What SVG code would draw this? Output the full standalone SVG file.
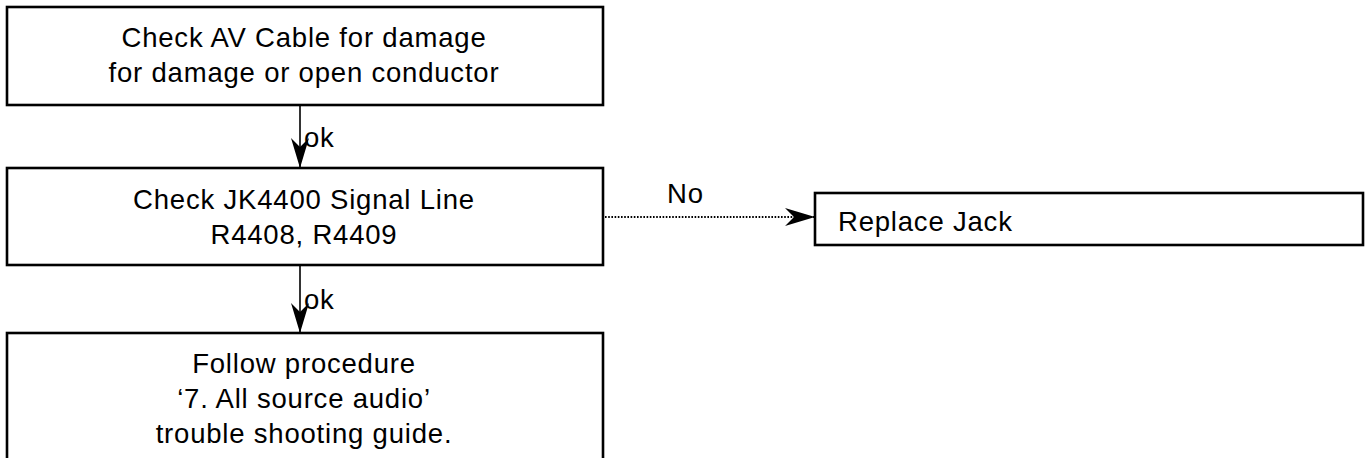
<svg xmlns="http://www.w3.org/2000/svg" width="1367" height="458" viewBox="0 0 1367 458">
<defs>
<style>
.box{fill:#fff;stroke:#000;stroke-width:2.6}
.t{font-family:"Liberation Sans",Arial,sans-serif;font-size:27.5px;letter-spacing:0.8px;fill:#000}
.c{text-anchor:middle}
.ln{stroke:#000;stroke-width:1.6;fill:none}
.dot{stroke:#000;stroke-width:1.8;fill:none;stroke-dasharray:1.6 1.6}
</style>
<marker id="ah" markerUnits="userSpaceOnUse" viewBox="0 0 30 18" refX="30" refY="9" markerWidth="30" markerHeight="18" orient="auto">
<path d="M0,0 L30,9 L0,18 L9,9 Z" fill="#000"/>
</marker>
</defs>
<rect width="1367" height="458" fill="#fff"/>
<g id="connectors">
<line class="ln" x1="300" y1="105" x2="300" y2="168" marker-end="url(#ah)"/>
<text class="t" x="304" y="147">ok</text>
<line class="ln" x1="300" y1="265" x2="300" y2="333" marker-end="url(#ah)"/>
<text class="t" x="304" y="309">ok</text>
<line class="dot" x1="605" y1="217" x2="815" y2="217" marker-end="url(#ah)"/>
<text class="t" x="667" y="203">No</text>
</g>
<g id="node1">
<rect class="box" x="7" y="7" width="596" height="98"/>
<text class="t c" x="304" y="47">Check AV Cable for damage</text>
<text class="t c" x="304" y="82">for damage or open conductor</text>
</g>
<g id="node2">
<rect class="box" x="7" y="168" width="596" height="97"/>
<text class="t c" x="304" y="209">Check JK4400 Signal Line</text>
<text class="t c" x="304" y="244">R4408, R4409</text>
</g>
<g id="node3">
<rect class="box" x="7" y="333" width="596" height="140"/>
<text class="t c" x="304" y="373">Follow procedure</text>
<text class="t c" x="304" y="408">‘7. All source audio’</text>
<text class="t c" x="304" y="443">trouble shooting guide.</text>
</g>
<g id="node4">
<rect class="box" x="815" y="193" width="548" height="52"/>
<text class="t" x="838" y="231">Replace Jack</text>
</g>
</svg>
